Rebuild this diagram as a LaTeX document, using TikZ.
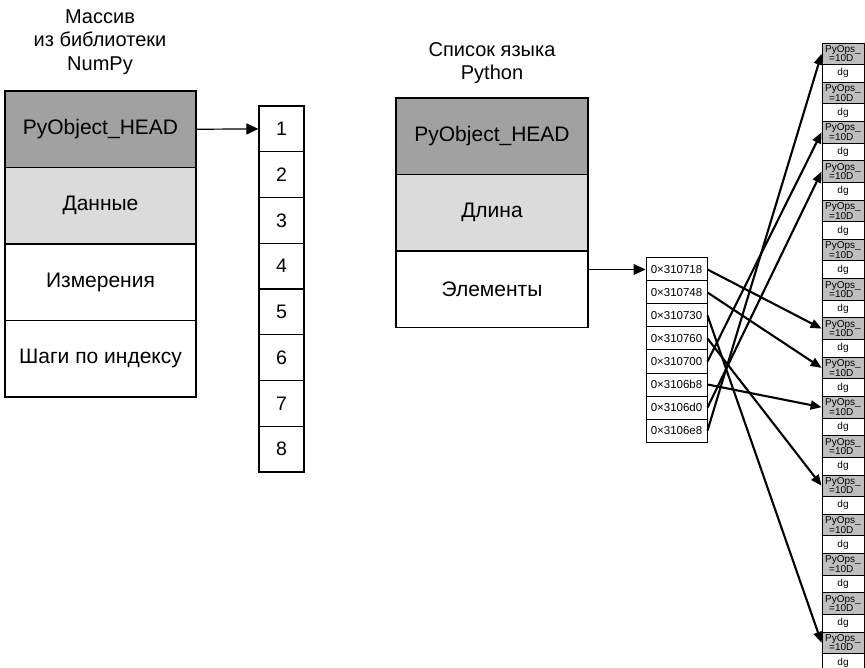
\documentclass[tikz,border=0pt]{standalone}
\usepackage{fontspec}
\setmainfont{Liberation Sans}
\usetikzlibrary{arrows.meta,calc}
\definecolor{hdark}{gray}{0.63}
\definecolor{hlight}{gray}{0.86}
\definecolor{rgray}{gray}{0.75}
\begin{document}
\begin{tikzpicture}[x=1pt,y=-1pt,
  cellbox/.style={draw, line width=1.2pt, rectangle, inner sep=0pt},
  bigfield/.style={cellbox, minimum width=191pt, minimum height=76.5pt, font=\fontsize{21}{24}\selectfont},
  numcell/.style={cellbox, minimum width=45pt, minimum height=45.75pt, font=\fontsize{19.5}{22}\selectfont},
  addrcell/.style={cellbox, line width=1pt, minimum width=61pt, minimum height=23pt, font=\fontsize{11.5}{13}\selectfont},
  objcell/.style={cellbox, line width=0.8pt, fill=rgray, minimum width=42pt, minimum height=21.5pt, align=left, font=\fontsize{10}{9.5}\selectfont},
  dgcell/.style={cellbox, line width=0.8pt, fill=white, minimum width=42pt, minimum height=17.77pt, font=\fontsize{10}{11}\selectfont},
  titletext/.style={align=center, font=\fontsize{20}{23.5}\selectfont, inner sep=0pt},
  thinarrow/.style={line width=1.2pt, -{Triangle[length=12pt,width=11pt]}},
  ptrarrow/.style={line width=2.1pt, -{Triangle[length=11pt,width=9pt]}}
]
\clip (0,0) rectangle (865,668);
\fill[white] (0,0) rectangle (865,668);

% NumPy array
\node[titletext] (t1) at (100,42) {Массив\\из библиотеки\\NumPy};
\node[bigfield, fill=hdark] (h1) at (100.5,129.25) {PyObject\_HEAD};
\node[bigfield, fill=hlight] (d1) at (100.5,205.75) {Данные};
\node[bigfield, fill=white] (m1) at (100.5,282.25) {Измерения};
\node[bigfield, fill=white] (s1) at (100.5,358.75) {Шаги по индексу};

\foreach \i in {1,...,8}{
  \node[numcell] (n\i) at (281.5,{128.9+45.75*(\i-1)}) {\i};
}
\draw[thinarrow] (h1.east) -- (n1.west);

% Python list
\node[titletext] (t2) at (492,63) {Список языка\\Python};
\node[bigfield, minimum width=192pt, fill=hdark] (h2) at (492,136.25) {PyObject\_HEAD};
\node[bigfield, minimum width=192pt, fill=hlight] (l2) at (492,212.75) {Длина};
\node[bigfield, minimum width=192pt, fill=white] (e2) at (492,289.25) {Элементы};

\foreach \i/\t in {1/0×310718,2/0×310748,3/0×310730,4/0×310760,5/0×310700,6/0×3106b8,7/0×3106d0,8/0×3106e8}{
  \node[addrcell] (a\i) at (676.5,{269.5+23*(\i-1)}) {\t};
}
\draw[thinarrow] (e2.east |- a1.west) -- (a1.west);

% objects column
\foreach \k in {0,...,15}{
  \node[objcell] (g\k) at (843,{53.75+39.27*\k}) {PyOps\_\\\hspace*{4pt}=10D};
  \node[dgcell] (w\k) at (843,{73.38+39.27*\k}) {dg};
}

\draw[ptrarrow] (a1.east) -- (g7.west);
\draw[ptrarrow] (a2.east) -- (g8.west);
\draw[ptrarrow] (a3.east) -- (g15.west);
\draw[ptrarrow] (a4.east) -- (g11.west);
\draw[ptrarrow] (a5.east) -- (g2.west);
\draw[ptrarrow] (a6.east) -- (g9.west);
\draw[ptrarrow] (a7.east) -- (g3.west);
\draw[ptrarrow] (a8.east) -- (g0.west);
\end{tikzpicture}
\end{document}
